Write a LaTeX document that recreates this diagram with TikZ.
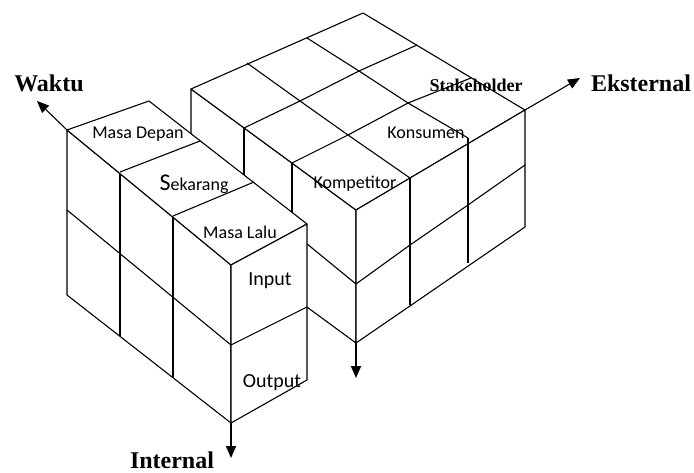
\documentclass[tikz,border=0pt]{standalone}
\usepackage{fontspec}
\setmainfont{Liberation Serif}
\newfontfamily\calibri{Carlito}
\usepackage{tikz}
\usetikzlibrary{arrows.meta,calc}
\tikzset{face/.style={draw,fill=white},
  axlab/.style={anchor=base,font=\bfseries\fontsize{24}{28}\selectfont},
  cell/.style={anchor=base,font=\calibri\fontsize{18}{22}\selectfont}}

\begin{document}
\begin{tikzpicture}[x=1pt,y=-1pt,line width=1.1pt,line join=round,>={Triangle[length=12pt,width=10pt]}]
\useasboundingbox (0,0) rectangle (694,472);
% --- right block: eksternal (3 x 3 on top, 2 rows high)
\begin{scope}
\draw[face] (191,89) -- (356,210) -- (356,343) -- (191,222) -- cycle;
\draw (244,128) -- (244,261); \draw (292,163) -- (292,296);
\draw (191,149) -- (356,284);
\draw[face] (191,89) -- (363,13) -- (525,110) -- (356,210) -- cycle;
\draw (244,128) -- (300,101) -- (359,71) -- (417,45);
\draw (292,163) -- (348,135) -- (408,103) -- (471,78);
\draw (247,63) -- (300,101) -- (348,135) -- (410,178);
\draw (307,38) -- (359,71) -- (408,103) -- (468,138);
\draw[face] (356,210) -- (525,110) -- (525,227) -- (356,343) -- cycle;
\draw (410,178) -- (410,305); \draw (468,138) -- (468,263);
\draw (356,284) -- (410,245) -- (468,205) -- (525,165);
\coordinate (Rtop) at (525,110); \coordinate (Rfoot) at (356,343);
\coordinate (eksTip) at (580,78); \coordinate (footTip) at (356,378);
\node[font=\bfseries\fontsize{18}{22}\selectfont,anchor=base] (stakeholder) at (476,91) {Stakeholder};
\node[cell] (konsumen) at (426,138) {Konsumen};
\node[cell] (kompetitor) at (355,188) {Kompetitor};
\end{scope}
% --- left block: waktu x internal
\begin{scope}
\draw[face] (67,130) -- (231,265) -- (231,423) -- (67,295) -- cycle;
\draw (120,172) -- (120,336); \draw (173,216) -- (173,377);
\draw (67,210) -- (231,345);
\draw[face] (67,130) -- (149,101) -- (307,224) -- (231,265) -- cycle;
\draw (120,172) -- (200,141); \draw (173,216) -- (254,182);
\draw[face] (231,265) -- (307,224) -- (307,380) -- (231,423) -- cycle;
\draw (231,345) -- (307,307);
\coordinate (Lback) at (67,130); \coordinate (Lfoot) at (231,423);
\coordinate (waktuTip) at (37,101); \coordinate (intTip) at (231,458);
\node[cell] (depan) at (138,138) {Masa Depan};
\node[cell] (sekarang) at (194,190) {{\fontsize{24}{28}\selectfont S}ekarang};
\node[cell] (lalu) at (240,238) {Masa Lalu};
\node[cell,font=\calibri\fontsize{20}{24}\selectfont] (input) at (270,285) {Input};
\node[cell,font=\calibri\fontsize{20}{24}\selectfont] (output) at (272,387) {Output};
\end{scope}
% --- axes
\draw[->] (Lback) -- (waktuTip);
\draw[->] (Rtop) -- (eksTip);
\draw[->,line width=1.8pt] (Lfoot) -- (intTip);
\draw[->,line width=1.8pt] (Rfoot) -- (footTip);
\node[axlab] (waktu) at (49,91) {Waktu};
\node[axlab] (eksternal) at (641,91) {Eksternal};
\node[axlab] (internal) at (172,468) {Internal};
\end{tikzpicture}
\end{document}
